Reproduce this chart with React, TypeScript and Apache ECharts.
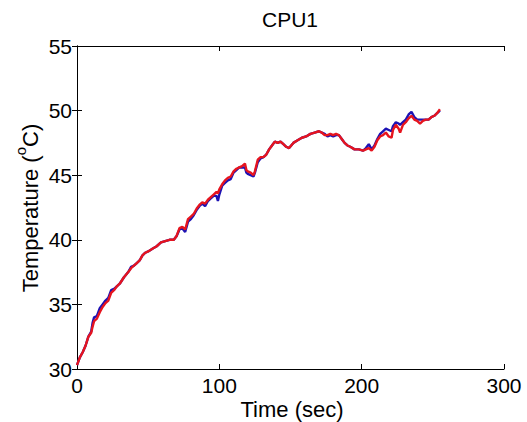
import React, { useEffect, useRef } from "react";
import * as echarts from "echarts";

const timeSec = [0, 2, 4, 6, 8, 10, 11, 12, 14, 16, 18, 20, 22, 24, 26, 28, 30, 33, 36, 38, 40, 42, 44, 46, 48, 50, 53, 56, 59, 62, 65, 68, 70, 72, 74, 76, 78, 80, 82, 84, 86, 88, 90, 92, 94, 96, 98, 99, 100, 102, 104, 106, 108, 110, 112, 114, 116, 118, 119, 120, 122, 124, 125, 127, 129, 131, 133, 135, 137, 139, 141, 143, 145, 147, 149, 152, 155, 158, 161, 164, 167, 170, 172, 174, 176, 178, 180, 182, 184, 186, 188, 190, 192, 195, 198, 201, 203, 205, 207, 209, 211, 213, 215, 217, 219, 221, 222, 224, 226, 227, 229, 231, 233, 235, 237, 239, 241, 243, 245, 247, 249, 251, 253, 255];

const redTemp = [30.3, 30.9, 31.3, 31.8, 32.5, 32.8, 33.3, 33.7, 33.9, 34.4, 34.8, 35.1, 35.3, 35.9, 36.1, 36.4, 36.6, 37.1, 37.5, 37.8, 38.0, 38.2, 38.4, 38.8, 39.0, 39.1, 39.3, 39.5, 39.8, 39.9, 40.0, 40.0, 40.3, 40.9, 41.0, 40.8, 41.6, 41.8, 42.0, 42.4, 42.7, 42.9, 42.8, 43.1, 43.3, 43.5, 43.7, 43.6, 43.9, 44.3, 44.6, 44.8, 44.9, 45.3, 45.5, 45.6, 45.7, 45.9, 45.4, 45.3, 45.2, 45.0, 45.3, 46.2, 46.4, 46.4, 46.6, 47.0, 47.3, 47.6, 47.5, 47.6, 47.4, 47.2, 47.1, 47.5, 47.7, 47.9, 48.0, 48.2, 48.3, 48.4, 48.3, 48.1, 48.1, 48.2, 48.1, 48.2, 48.1, 47.8, 47.5, 47.3, 47.2, 47.0, 47.0, 46.9, 47.0, 47.1, 46.9, 47.2, 47.7, 48.0, 48.1, 48.3, 48.0, 47.9, 48.5, 48.9, 48.6, 48.3, 48.9, 49.1, 49.4, 49.6, 49.3, 49.2, 49.0, 49.2, 49.3, 49.3, 49.5, 49.6, 49.8, 50.1];

const blueTemp = [30.3, 30.9, 31.3, 31.8, 32.5, 32.9, 33.6, 34.0, 34.1, 34.7, 35.0, 35.3, 35.5, 36.1, 36.2, 36.4, 36.6, 37.1, 37.5, 37.9, 38.0, 38.2, 38.4, 38.8, 39.0, 39.1, 39.3, 39.5, 39.8, 39.9, 40.0, 40.0, 40.3, 40.8, 40.9, 40.6, 41.4, 41.6, 41.9, 42.3, 42.6, 42.8, 42.6, 43.0, 43.2, 43.4, 43.4, 43.0, 43.5, 44.2, 44.4, 44.6, 44.7, 45.2, 45.4, 45.6, 45.6, 45.6, 45.2, 45.1, 45.0, 44.9, 45.2, 46.0, 46.3, 46.4, 46.6, 47.0, 47.3, 47.6, 47.5, 47.6, 47.4, 47.2, 47.1, 47.5, 47.7, 47.9, 48.0, 48.2, 48.3, 48.4, 48.3, 48.2, 48.0, 48.1, 48.0, 48.1, 48.1, 47.8, 47.5, 47.3, 47.2, 47.0, 47.0, 46.9, 47.1, 47.4, 47.0, 47.3, 47.8, 48.2, 48.4, 48.6, 48.5, 48.4, 48.8, 49.1, 49.0, 48.9, 49.1, 49.3, 49.7, 49.9, 49.5, 49.3, 49.3, 49.3, 49.3, 49.3, 49.5, 49.6, 49.8, 50.0];

const xTicks = { min: 0, max: 300, interval: 100 };
const yTicks = { min: 30, max: 55, interval: 5 };

const FONT = "'Liberation Sans', Arial, Helvetica, sans-serif";

export default function App() {
  const ref = useRef<HTMLDivElement>(null);
  useEffect(() => {
    document.body.style.margin = "0";
    if (!ref.current) return;
    const chart = echarts.init(ref.current, undefined, { renderer: "svg" });
    const axisLine = { show: true, lineStyle: { color: "#000", width: 1 } };
    const tick = { show: true, inside: true, length: 5, lineStyle: { color: "#000", width: 1 } };
    const labelStyle = { color: "#000", fontSize: 21, fontFamily: FONT };
    chart.setOption({
      animation: false,
      backgroundColor: "#fff",
      grid: { left: 77, right: 23, top: 46, bottom: 53, containLabel: false },
      xAxis: [
        {
          type: "value", position: "bottom", ...xTicks,
          axisLine, axisTick: tick, splitLine: { show: false },
          axisLabel: { ...labelStyle, margin: 6 },
        },
        {
          type: "value", position: "top", ...xTicks,
          axisLine, axisTick: tick, splitLine: { show: false },
          axisLabel: { show: false },
        },
      ],
      yAxis: [
        {
          type: "value", position: "left", ...yTicks,
          axisLine, axisTick: tick, splitLine: { show: false },
          axisLabel: { ...labelStyle, margin: 5 },
        },
        {
          type: "value", position: "right", ...yTicks,
          axisLine, axisTick: tick, splitLine: { show: false },
          axisLabel: { show: false },
        },
      ],
      graphic: [
        {
          type: "text", x: 290, y: 19, silent: true,
          style: { text: "CPU1", fill: "#000", fontSize: 21, fontFamily: FONT, textAlign: "center", textVerticalAlign: "middle" },
        },
        {
          type: "text", x: 292, y: 409, silent: true,
          style: { text: "Time (sec)", fill: "#000", fontSize: 22, fontFamily: FONT, textAlign: "center", textVerticalAlign: "middle" },
        },
        {
          type: "text", x: 27, y: 208, rotation: Math.PI / 2, silent: true,
          style: {
            text: "{a|Temperature (}{s|o}{a|C)}",
            textAlign: "center", textVerticalAlign: "middle",
            rich: {
              a: { fill: "#000", fontSize: 22, fontFamily: FONT, lineHeight: 28, verticalAlign: "bottom" },
              s: { fill: "#000", fontSize: 15, fontFamily: FONT, lineHeight: 28, verticalAlign: "top" },
            },
          },
        },
      ],
      series: [
        {
          type: "line", xAxisIndex: 0, yAxisIndex: 0, showSymbol: false,
          lineStyle: { color: "#1c12b4", width: 2.4 },
          data: timeSec.map((t, i) => [t, blueTemp[i]]),
        },
        {
          type: "line", xAxisIndex: 0, yAxisIndex: 0, showSymbol: false,
          lineStyle: { color: "#e6141e", width: 2.4 },
          data: timeSec.map((t, i) => [t, redTemp[i]]),
        },
      ],
    });
    return () => chart.dispose();
  }, []);
  return <div ref={ref} style={{ width: 527, height: 422 }} />;
}
